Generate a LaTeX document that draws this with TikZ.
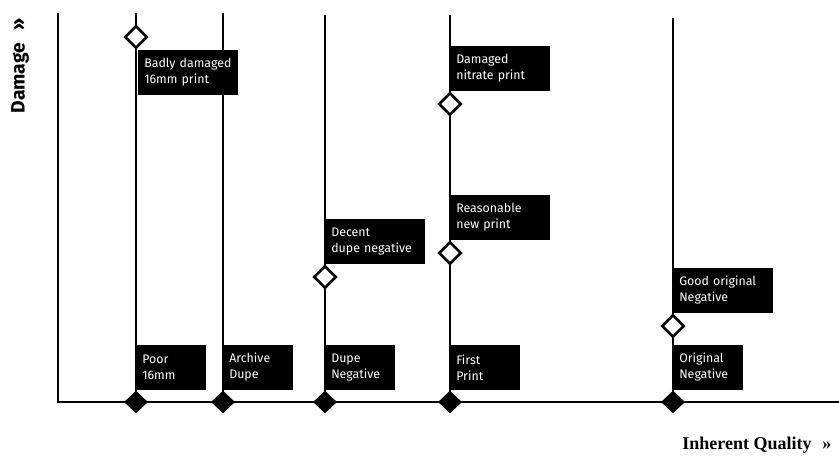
\documentclass[tikz,border=0pt]{standalone}
\usepackage{fontspec}
\setsansfont{Fira Sans}
\setmainfont{Liberation Serif}
\usetikzlibrary{shapes.geometric,backgrounds}

\begin{document}
\begin{tikzpicture}[x=0.75pt,y=-0.75pt,
        axis/.style={line width=2.2pt,line join=miter},
        stem/.style={line width=1.6pt},
        open dia/.style={diamond,draw,fill=white,line width=2pt,inner sep=0pt,minimum size=17pt},
        full dia/.style={diamond,fill=black,inner sep=0pt,minimum width=18pt,minimum height=17pt},
        tag/.style={fill=black,text=white,font=\sffamily\fontsize{9.3}{12}\selectfont,
                    align=left,inner xsep=4.5pt,inner ysep=5pt,minimum height=34pt,text width=43pt},
        wide tag/.style={tag,text width=66pt}]

        \useasboundingbox (0,0) rectangle (839,471);

        % Define markers
        \node[full dia] (poor) at (136,402) {};
        \node[full dia] (archive) at (223,402) {};
        \node[full dia] (dupe) at (325,402) {};
        \node[full dia] (first) at (450,402) {};
        \node[full dia] (orig) at (673,402) {};
        \node[open dia] (badly) at (136,37) {};
        \node[open dia] (decent) at (325,277) {};
        \node[open dia] (nitrate) at (450,104) {};
        \node[open dia] (reason) at (450,253) {};
        \node[open dia] (good) at (673,326) {};

        % Define labels
        \node[tag,anchor=south west] (poor l) at (poor.north) {Poor\\16mm};
        \node[tag,anchor=south west] (archive l) at (archive.north) {Archive\\Dupe};
        \node[tag,anchor=south west] (dupe l) at (dupe.north) {Dupe\\Negative};
        \node[tag,anchor=south west] (first l) at (first.north) {First\\Print};
        \node[tag,anchor=south west] (orig l) at (orig.north) {Original\\Negative};
        \node[wide tag,anchor=north west] (badly l) at ([xshift=1.5pt]badly.south) {Badly damaged\\16mm print};
        \node[wide tag,anchor=south west] (decent l) at (decent.north) {Decent\\dupe negative};
        \node[wide tag,anchor=south west] (nitrate l) at (nitrate.north) {Damaged\\nitrate print};
        \node[wide tag,anchor=south west] (reason l) at (reason.north) {Reasonable\\new print};
        \node[wide tag,anchor=south west] (good l) at (good.north) {Good original\\Negative};

        % Axis titles
        \node[font=\sffamily\bfseries\fontsize{14.5}{16}\selectfont,rotate=90] (damage) at (20,66) {Damage\hspace{9pt}»};
        \node[font=\rmfamily\bfseries\fontsize{13.5}{15}\selectfont,anchor=east] (quality) at (836,445) {Inherent Quality\hspace{8pt}»};

        % Draw axes and stems
        \begin{pgfonlayer}{background}
            \fill[white] (0,0) rectangle (839,471);
            \coordinate (ytop) at (58,13);
            \coordinate (origin) at (58,402);
            \coordinate (xend) at (839,402);
            \draw[axis] (ytop) -- (origin) -- (xend);

            \coordinate (poor top) at (136,13);
            \coordinate (archive top) at (223,13);
            \coordinate (dupe top) at (325,15);
            \coordinate (first top) at (450,15);
            \coordinate (orig top) at (673,18);
            \draw[stem] (poor top) -- (poor.center);
            \draw[stem] (archive top) -- (archive.center);
            \draw[stem] (dupe top) -- (dupe.center);
            \draw[stem] (first top) -- (first.center);
            \draw[stem] (orig top) -- (orig.center);
        \end{pgfonlayer}

\end{tikzpicture}
\end{document}
